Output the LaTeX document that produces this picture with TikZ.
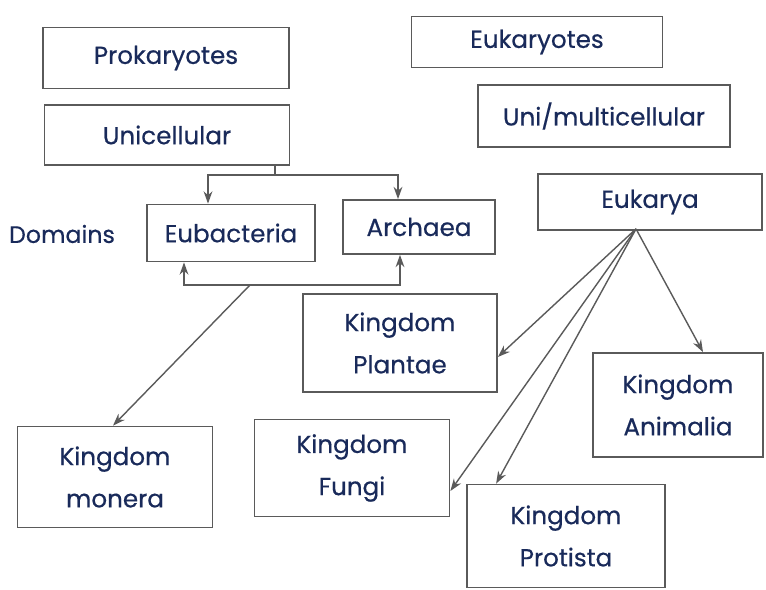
\documentclass[tikz,border=0pt]{standalone}
\usepackage{fontspec}
\setmainfont{Poppins}
\newfontfamily\handfont{Poppins}[FakeBold=0.5]
\usepackage{tikz}
\usetikzlibrary{positioning, calc, arrows.meta}

\definecolor{inkblue}{RGB}{25,42,90}
\definecolor{pencil}{RGB}{90,90,90}

\tikzset{
    box/.style={draw=pencil, line width=1pt, text=inkblue, align=center,
        font=\handfont\fontsize{14}{24}\selectfont, inner sep=0pt},
    link/.style={draw=pencil, line width=0.8pt}
}

\begin{document}
\begin{tikzpicture}[x=0.02cm, y=-0.02cm, >={Stealth[length=7pt,width=5pt]}]
    \useasboundingbox (0,0) rectangle (766,590);

    % Prokaryote side
    \node[box, minimum width=246*0.02cm, minimum height=61*0.02cm] (prok) at (166,58) {Prokaryotes};
    \node[box, minimum width=245*0.02cm, minimum height=60*0.02cm] (unic) at (167,135) {Unicellular};

    % Eukaryote side
    \node[box, minimum width=251*0.02cm, minimum height=51*0.02cm] (euk) at (537,42) {Eukaryotes};
    \node[box, minimum width=252*0.02cm, minimum height=62*0.02cm] (multi) at (604,116) {Uni/multicellular};

    % Domains
    \node[text=inkblue, font=\handfont\fontsize{13.5}{17}\selectfont] (dom) at (62,234) {Domains};
    \node[box, minimum width=168*0.02cm, minimum height=57*0.02cm] (eubac) at (231,233) {Eubacteria};
    \node[box, minimum width=152*0.02cm, minimum height=54*0.02cm] (arch) at (419,227) {Archaea};
    \node[box, minimum width=224*0.02cm, minimum height=56*0.02cm] (eukarya) at (650,202) {Eukarya};

    % Kingdoms
    \node[box, minimum width=195*0.02cm, minimum height=101*0.02cm] (monera) at (115,477) {Kingdom\\monera};
    \node[box, minimum width=195*0.02cm, minimum height=97*0.02cm] (fungi) at (352,468) {Kingdom\\Fungi};
    \node[box, minimum width=194*0.02cm, minimum height=98*0.02cm] (plantae) at (400,343) {Kingdom\\Plantae};
    \node[box, minimum width=198*0.02cm, minimum height=103*0.02cm] (protista) at (566,536) {Kingdom\\Protista};
    \node[box, minimum width=170*0.02cm, minimum height=104*0.02cm] (animalia) at (678,405) {Kingdom\\Animalia};

    % Unicellular splits into the two prokaryote domains
    \coordinate (split) at (275,175);
    \draw[link] (unic.south -| split) -- (split);
    \draw[link, ->] (split) -| ($(eubac.north)+(-23,0)$);
    \draw[link, ->] (split) -| ($(arch.north)+(-21,0)$);

    % Bracket under the domains, leading to monera
    \coordinate (base) at (250,285);
    \draw[link, <->] ($(eubac.south)+(-47,0)$) |- (base) -| ($(arch.south)+(-19,0)$);
    \draw[link, ->] (base) -- ($(monera.north)+(-2,0)$);

    % Eukarya fans out to four kingdoms
    \coordinate (root) at ($(eukarya.south)+(-14,-2)$);
    \draw[link, ->] (root) -- ($(plantae.east)+(0,14)$);
    \draw[link, ->] (root) -- ($(fungi.east)+(0,23)$);
    \draw[link, ->] (root) -- ($(protista.north west)+(30,0)$);
    \draw[link, ->] (root) -- ($(animalia.north)+(25,0)$);
\end{tikzpicture}
\end{document}
